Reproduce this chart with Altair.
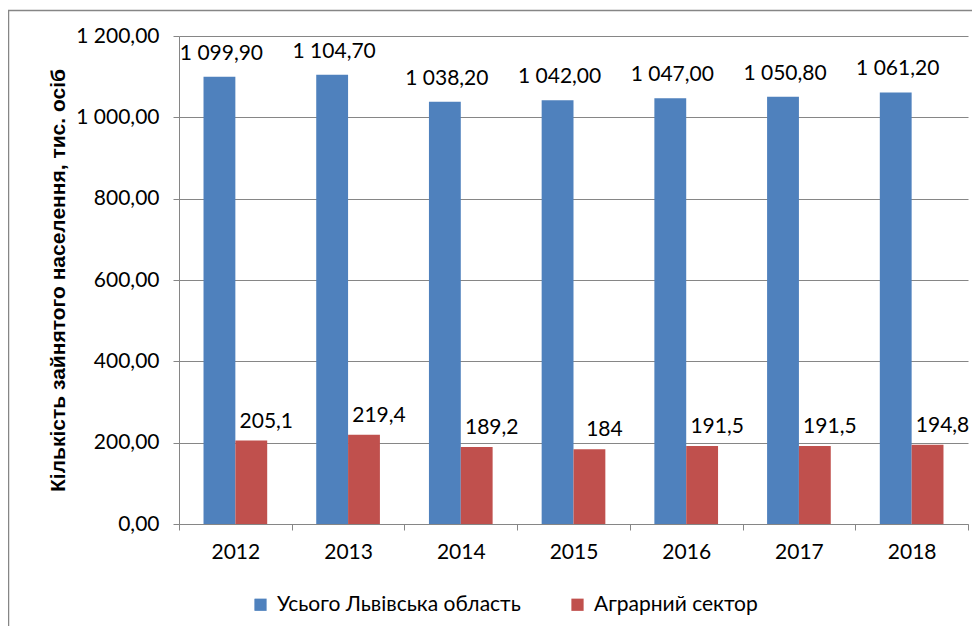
import altair as alt
import pandas as pd

years = ["2012", "2013", "2014", "2015", "2016", "2017", "2018"]
total = [1099.9, 1104.7, 1038.2, 1042.0, 1047.0, 1050.8, 1061.2]
agro = [205.1, 219.4, 189.2, 184.0, 191.5, 191.5, 194.8]
series = ["Усього Львівська область", "Аграрний сектор"]
colors = ["#4F81BD", "#C0504D"]


def fmt_total(v):
    s = f"{v:,.2f}"
    return s.replace(",", " ").replace(".", ",")


def fmt_agro(v):
    return f"{v:g}".replace(".", ",")


rows = []
for y, t, a in zip(years, total, agro):
    rows.append({"year": y, "series": series[0], "value": t, "label": fmt_total(t)})
    rows.append({"year": y, "series": series[1], "value": a, "label": fmt_agro(a)})
df = pd.DataFrame(rows)

FONT = "Lato"
FS = 21
W, H = 789, 488
PL, PT = 171, 28

x = alt.X("year:N", title=None, sort=years,
          scale=alt.Scale(paddingInner=0, paddingOuter=0),
          axis=alt.Axis(tickBand="extent", labelAngle=0, labelFontSize=FS,
                        labelPadding=11, tickSize=6, tickColor="#868686",
                        domainColor="#868686", labelColor="#000000", labelFont=FONT))
xoff = alt.XOffset("series:N", sort=series,
                   scale=alt.Scale(paddingInner=0, paddingOuter=0.77))
y = alt.Y("value:Q", title="Кількість зайнятого населення, тис. осіб",
          scale=alt.Scale(domain=[0, 1200], nice=False),
          axis=alt.Axis(values=[0, 200, 400, 600, 800, 1000, 1200],
                        labelExpr="replace(replace(format(datum.value, ',.2f'), ',', ' '), '.', ',')",
                        labelFontSize=FS, labelPadding=14, tickSize=6,
                        tickColor="#868686", domainColor="#868686",
                        gridColor="#868686", labelColor="#000000", labelFont=FONT,
                        titleFont="Liberation Sans", titleFontSize=21, titleFontWeight="bold",
                        titleColor="#000000", titleAngle=-90, titleX=-121, titleY=H / 2,
                        titleAlign="center", titleBaseline="middle"))
color = alt.Color("series:N", sort=series,
                  scale=alt.Scale(domain=series, range=colors),
                  legend=alt.Legend(title=None, orient="none", direction="horizontal",
                                    legendX=71, legendY=558, symbolType="square",
                                    symbolSize=150, symbolStrokeWidth=0,
                                    labelFontSize=FS, labelFont=FONT, labelColor="#000000",
                                    labelLimit=0, columnPadding=46, labelOffset=6, padding=0))

base = alt.Chart(df)
bars = base.mark_bar().encode(x=x, xOffset=xoff, y=y, color=color)

lab_total = base.transform_filter(alt.datum.series == series[0]).mark_text(
    font=FONT, fontSize=FS, color="#000000", baseline="middle", dy=-23, dx=2
).encode(x=alt.X("year:N", sort=years), xOffset=alt.XOffset("series:N", sort=series),
         y="value:Q", text="label:N")
lab_agro = base.transform_filter(alt.datum.series == series[1]).mark_text(
    font=FONT, fontSize=FS, color="#000000", baseline="middle", dy=-19, dx=15
).encode(x=alt.X("year:N", sort=years), xOffset=alt.XOffset("series:N", sort=series),
         y="value:Q", text="label:N")

frame = alt.Chart(pd.DataFrame({"a": [0]})).mark_rect(
    fill=None, stroke="#868686", strokeWidth=1.5, clip=False
).encode(x=alt.value(-PL + 0.5), x2=alt.value(W + 40), y=alt.value(-PT + 2.5), y2=alt.value(H + 120))

chart = alt.layer(frame, bars, lab_total, lab_agro).properties(
    width=W, height=H,
    autosize=alt.AutoSizeParams(type="none"),
    padding={"left": PL, "top": PT, "right": 964 - PL - W, "bottom": 618 - PT - H},
).configure_view(stroke=None)

chart.save("out.html", embed_options={"renderer": "svg", "actions": False})
